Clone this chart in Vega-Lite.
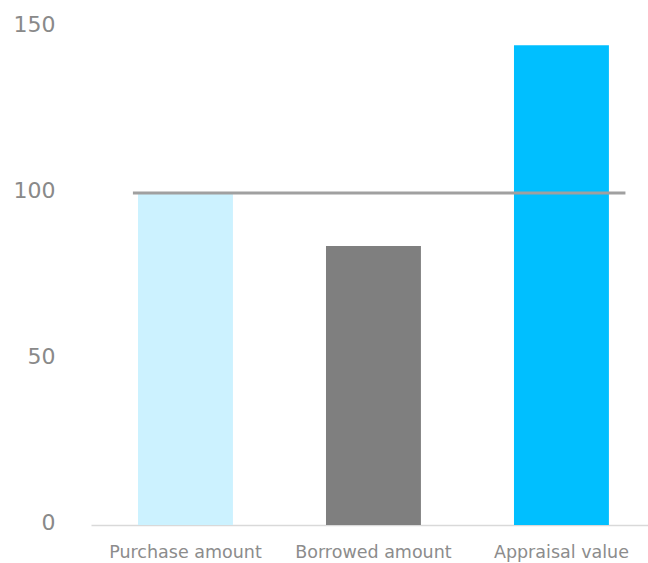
{
  "$schema": "https://vega.github.io/schema/vega-lite/v6.json",
  "width": 557,
  "height": 498,
  "autosize": {"type": "none"},
  "padding": {"left": 91, "top": 27, "right": 0, "bottom": 38},
  "background": "white",
  "config": {"view": {"stroke": null}, "font": "DejaVu Sans"},
  "datasets": {
    "bars": [
      {"item": "Purchase amount", "value": 100, "color": "#CCF2FF"},
      {"item": "Borrowed amount", "value": 84, "color": "#7F7F7F"},
      {"item": "Appraisal value", "value": 144.5, "color": "#00BFFF"}
    ],
    "line": [
      {"start": 0.72, "end": 3.34, "level": 100}
    ]
  },
  "layer": [
    {
      "data": {"name": "bars"},
      "mark": {"type": "bar"},
      "encoding": {
        "x": {
          "field": "item", "type": "nominal", "sort": null,
          "scale": {"paddingInner": 0.495, "paddingOuter": 0.229, "align": 0.546},
          "axis": {
            "title": null, "labelAngle": 0, "ticks": false,
            "domainColor": "#D9D9D9", "domainWidth": 1.5,
            "labelFontSize": 17.5, "labelColor": "#8C8C8C", "labelPadding": 18,
            "labelFont": "DejaVu Sans"
          }
        },
        "y": {
          "field": "value", "type": "quantitative",
          "scale": {"domain": [0, 150], "nice": false},
          "axis": {
            "title": null, "values": [0, 50, 100, 150], "grid": false,
            "domain": false, "ticks": false, "labelFontSize": 22,
            "labelColor": "#898989", "labelPadding": 36, "labelOffset": -3,
            "labelFont": "DejaVu Sans"
          }
        },
        "color": {"field": "color", "type": "nominal", "scale": null, "legend": null}
      }
    },
    {
      "data": {"name": "line"},
      "mark": {"type": "rule", "color": "#A0A0A0", "strokeWidth": 3},
      "encoding": {
        "x": {"field": "start", "type": "quantitative", "scale": {"domain": [0.497, 3.46], "nice": false, "zero": false}, "axis": null},
        "x2": {"field": "end"},
        "y": {"field": "level", "type": "quantitative"}
      }
    }
  ],
  "resolve": {"scale": {"x": "independent"}, "axis": {"x": "independent"}}
}
